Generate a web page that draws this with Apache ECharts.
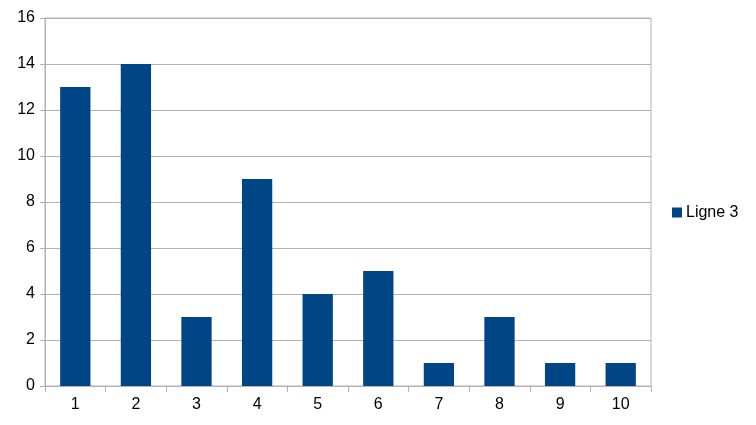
<!DOCTYPE html>
<html><head><meta charset="utf-8">
<script src="https://cdn.jsdelivr.net/npm/echarts@6/dist/echarts.min.js"></script>
<style>html,body{margin:0;padding:0;background:#fff}#c{width:756px;height:425px}</style>
</head><body><div id="c"></div>
<script>
const categories = ['1','2','3','4','5','6','7','8','9','10'];
const values = [13,14,3,9,4,5,1,3,1,1];
const seriesName = 'Ligne 3';
const chart = echarts.init(document.getElementById('c'));
const grey = '#b3b3b3';
chart.setOption({
  animation: false,
  textStyle: {fontFamily: 'Liberation Sans'},
  grid: {left: 45, right: 105, top: 18, bottom: 39, show: true, borderColor: grey, borderWidth: 1, backgroundColor: 'transparent'},
  legend: {
    orient: 'vertical', left: 667, top: 'middle',
    itemWidth: 10, itemHeight: 10, itemGap: 4,
    icon: 'rect',
    textStyle: {fontSize: 16, color: '#000', fontFamily: 'Liberation Sans', padding: [0,0,0,-1]},
    data: [seriesName]
  },
  xAxis: {
    type: 'category', data: categories,
    axisLine: {lineStyle: {color: grey}},
    axisTick: {show: true, length: 6, lineStyle: {color: grey}, alignWithLabel: false},
    axisLabel: {color: '#000', fontSize: 16, margin: 11},
    splitLine: {show: false}
  },
  yAxis: {
    type: 'value', min: 0, max: 16, interval: 2,
    axisLine: {show: true, lineStyle: {color: grey}},
    axisTick: {show: true, length: 5, lineStyle: {color: grey}},
    axisLabel: {color: '#000', fontSize: 16, margin: 10},
    splitLine: {lineStyle: {color: grey}}
  },
  series: [{
    name: seriesName, type: 'bar', data: values,
    barWidth: '50%',
    itemStyle: {color: '#004586'}
  }]
});
</script></body></html>
